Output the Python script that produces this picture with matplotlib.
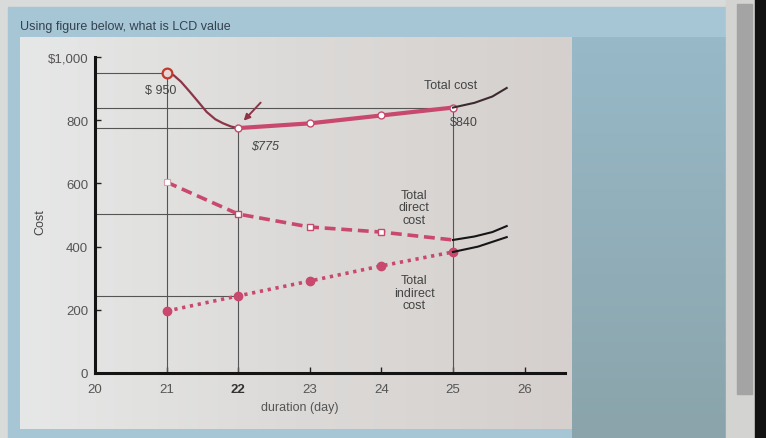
import numpy as np
import matplotlib
matplotlib.use("Agg")
import matplotlib.pyplot as plt
from matplotlib.patches import Rectangle

plt.rcParams['font.family'] = ['Liberation Sans', 'DejaVu Sans']

# values
days = [21, 22, 23, 24, 25]
total_cost = [950, 775, 790, 815, 840]
direct_cost = [604, 503, 462, 446, 421]
indirect_cost = [196, 244, 291, 339, 383]

# the hand drawn part of total cost between day 21 and 22
curve_days = [21.0, 21.1, 21.2, 21.32, 21.45, 21.56, 21.68, 21.79, 21.9, 22.0]
curve_cost = [950, 942, 922, 891, 856, 826, 803, 790, 780, 775]

# black continuations drawn past day 25
ext_total_x = [25.0, 25.3, 25.55, 25.75]
ext_total_y = [840, 855, 875, 902]
ext_direct_x = [25.0, 25.3, 25.55, 25.75]
ext_direct_y = [421, 432, 446, 465]
ext_indirect_x = [25.0, 25.35, 25.75]
ext_indirect_y = [383, 400, 430]

x_ticks = [20, 21, 22, 23, 24, 25, 26]
y_ticks = [0, 200, 400, 600, 800, 1000]
y_tick_labels = ['0', '200', '400', '600', '800', '$1,000']

W, H = 766, 439
fig = plt.figure(figsize=(W / 100, H / 100), dpi=100)

# screen around the chart, in pixel coords
bg = fig.add_axes([0, 0, 1, 1])
bg.set_xlim(0, W)
bg.set_ylim(H, 0)
bg.axis('off')
bg.add_patch(Rectangle((0, 0), W, H, color='#d9dbdb'))
bg.add_patch(Rectangle((8, 8), 718, H, color='#a6c6d6'))
side = matplotlib.colors.LinearSegmentedColormap.from_list('s', ['#97b9c8', '#8ba4ab'])
bg.imshow(np.linspace(0, 1, 100)[:, None], extent=(572, 726, H, 38), cmap=side,
          aspect='auto', zorder=1)
grad = np.linspace(0, 1, 200)[None, :]
panel_cmap = matplotlib.colors.LinearSegmentedColormap.from_list('p', ['#e6e8e7', '#dcdad8', '#d5d0ce'])
bg.imshow(grad, extent=(20, 572, 430, 38), cmap=panel_cmap, aspect='auto', zorder=1)
bg.add_patch(Rectangle((726, 0), 30, H, color='#d3d3d1', zorder=2))
bg.add_patch(Rectangle((737, 5), 15, 390, color='#a3a4a3', zorder=2))
bg.add_patch(Rectangle((755, 0), 11, H, color='#121212', zorder=2))

fig.text(20 / W, 1 - 27 / H, 'Using figure below, what is LCD value',
         fontsize=9, color='#34414f', va='center')

ax = fig.add_axes([95 / W, (H - 374) / H, 470 / W, 316 / H])
ax.set_facecolor('none')
ax.set_xlim(20, 20 + 470 / 71.6)
ax.set_ylim(0, 1000)
for s in ['top', 'right']:
    ax.spines[s].set_visible(False)
for s in ['left', 'bottom']:
    ax.spines[s].set_linewidth(2.2)
    ax.spines[s].set_color('#141414')
ax.set_xticks(x_ticks)
ax.set_yticks(y_ticks)
ax.set_yticklabels(y_tick_labels)
ax.tick_params(direction='in', length=4, width=1, colors='#222222',
               labelcolor='#555555', labelsize=9.5)
ax.tick_params(axis='y', pad=5)
ax.tick_params(axis='x', pad=7)
for lab in ax.get_xticklabels():
    if lab.get_text() == '22':
        lab.set_fontweight('bold')
        lab.set_color('#333333')

# reference lines
gc = '#555555'
ax.plot([20, 21], [total_cost[0]] * 2, color=gc, lw=0.8)
ax.plot([20, 25], [total_cost[4]] * 2, color=gc, lw=0.8)
ax.plot([20, 22], [total_cost[1]] * 2, color=gc, lw=0.8)
ax.plot([20, 22], [direct_cost[1]] * 2, color=gc, lw=0.8)
ax.plot([20, 22], [indirect_cost[1]] * 2, color=gc, lw=0.8)
ax.plot([21, 21], [0, total_cost[0]], color=gc, lw=0.8)
ax.plot([22, 22], [0, total_cost[1]], color=gc, lw=0.8)
ax.plot([25, 25], [0, total_cost[4]], color=gc, lw=0.8)

pink = '#c9486e'
# total cost
ax.plot(curve_days, curve_cost, color='#8c3548', lw=1.6, zorder=4)
ax.plot(days[1:], total_cost[1:], color=pink, lw=3, zorder=4,
        marker='o', ms=5, mfc='white', mec=pink, mew=1)
ax.plot(ext_total_x, ext_total_y, color='#3c2a30', lw=1.5, zorder=4)
ax.plot(days[0], total_cost[0], marker='o', ms=7, mfc='#e8d6d6', mec='#c0392b',
        mew=1.6, zorder=5)

# total direct cost
ax.plot(days, direct_cost, color=pink, lw=2.6, dashes=(3, 1.6), zorder=4)
ax.plot(days[1:4], direct_cost[1:4], ls='none', marker='s', ms=5, mfc='white',
        mec=pink, mew=1, zorder=5)
ax.plot(days[0], direct_cost[0], ls='none', marker='s', ms=4, mfc='white',
        mec='#d8a0b0', mew=0.8, zorder=5)
ax.plot(ext_direct_x, ext_direct_y, color='#161616', lw=1.5, zorder=4)

# total indirect cost
ax.plot(days, indirect_cost, color=pink, lw=2.6, dashes=(0.9, 1.3), zorder=4,
        marker='o', ms=6, mfc=pink, mec=pink)
ax.plot(ext_indirect_x, ext_indirect_y, color='#161616', lw=1.5, zorder=4)

ax.annotate('', xy=(22.05, 792), xytext=(22.34, 862),
            arrowprops=dict(arrowstyle='-|>', color='#8c3548', lw=1.4,
                            mutation_scale=9))

tc = '#444444'
fs = 9
ax.text(20.92, 895, '$ 950', fontsize=fs, color=tc, ha='center', va='center')
ax.text(22.38, 718, '$775', fontsize=fs, color=tc, ha='center', va='center',
        style='italic')
ax.text(24.96, 912, 'Total cost', fontsize=fs, color=tc, ha='center', va='center')
ax.text(25.15, 795, '$840', fontsize=fs, color=tc, ha='center', va='center')
ax.text(24.46, 525, 'Total\ndirect\ncost', fontsize=fs, color=tc, ha='center',
        va='center', linespacing=1.05)
ax.text(24.46, 254, 'Total\nindirect\ncost', fontsize=fs, color=tc, ha='center',
        va='center', linespacing=1.05)

fig.text(40 / W, 1 - 222 / H, 'Cost', fontsize=9, color='#444444', rotation=90,
         ha='center', va='center')
fig.text(300 / W, 1 - 408 / H, 'duration (day)', fontsize=9, color='#555555',
         ha='center', va='center')

fig.savefig('out.png', dpi=100)
